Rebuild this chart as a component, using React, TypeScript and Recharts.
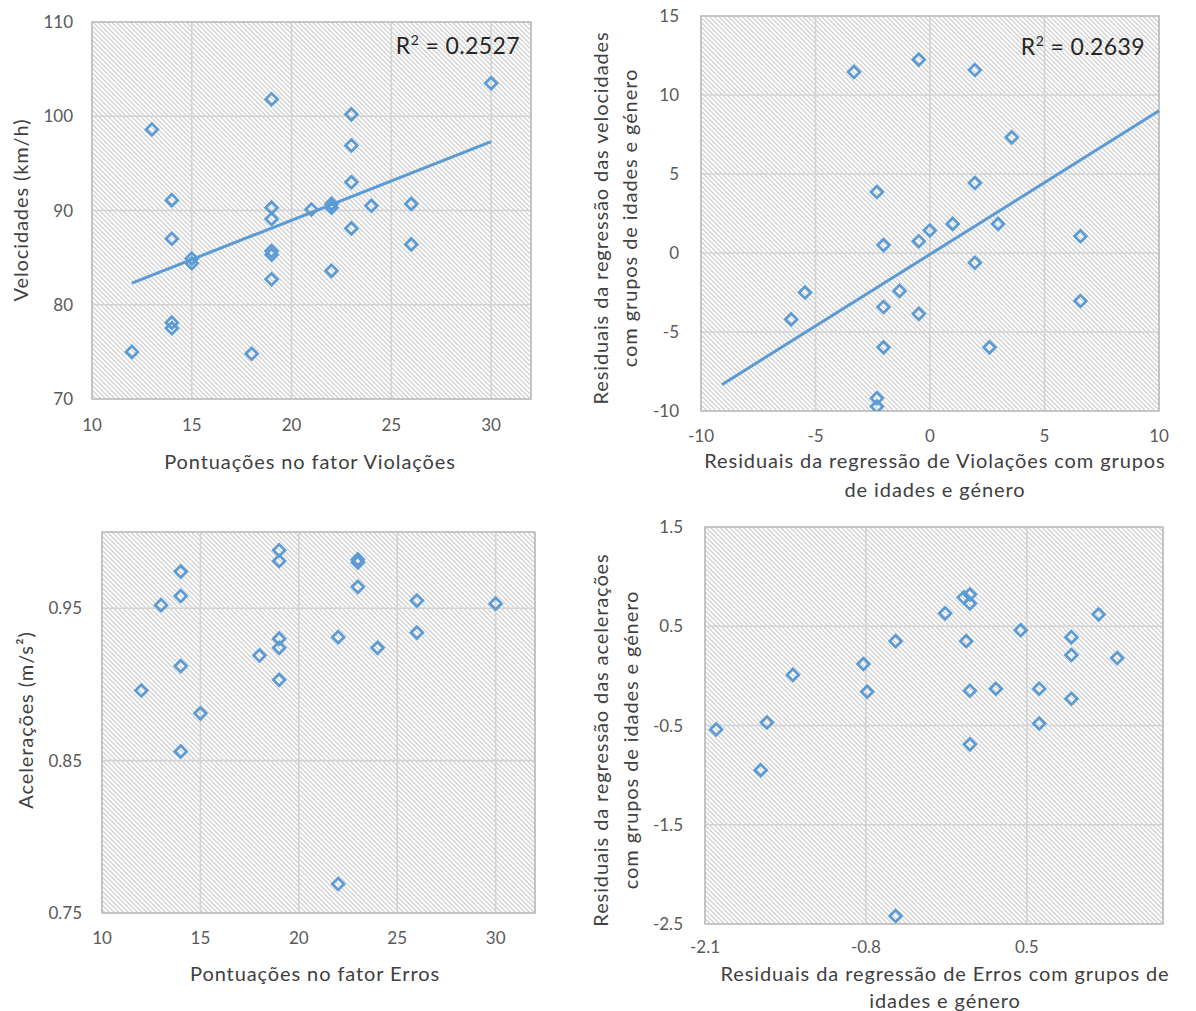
import React from 'react';
import {
  ScatterChart,
  Scatter,
  XAxis,
  YAxis,
  CartesianGrid,
  ReferenceLine,
  ReferenceArea,
  Label,
} from 'recharts';

const BLUE = '#5B9BD5';
const FONT = 'Lato, "Noto Sans", sans-serif';
const TICK_COLOR = '#595959';
const TITLE_COLOR = '#404040';

// ---------- Chart 1: Velocidades vs Violações ----------
const violacoes = [12, 13, 14, 14, 14, 14, 15, 15, 18, 19, 19, 19, 19, 19, 19, 21, 22, 22, 22, 23, 23, 23, 23, 24, 26, 26, 30];
const velocidades = [75.0, 98.6, 91.1, 87.0, 78.1, 77.5, 84.9, 84.4, 74.8, 101.8, 90.3, 89.1, 85.7, 85.3, 82.7, 90.1, 90.7, 90.3, 83.6, 100.2, 96.9, 93.0, 88.1, 90.5, 90.7, 86.4, 103.5];
const trend1X = [12, 30];
const trend1Y = [82.3, 97.3];
const xTicks1 = [10, 15, 20, 25, 30];
const yTicks1 = [70, 80, 90, 100, 110];

// ---------- Chart 2: residuais velocidades vs residuais violações ----------
const resViolacoes = [-6.06, -5.46, -3.32, -0.49, 1.96, 3.57, 1.96, -2.32, 0.99, 2.97, -0.01, -0.49, -2.03, 6.57, 1.96, -1.33, -2.03, -0.49, 6.57, -2.03, 2.6, -2.32, -2.32];
const resVelocidades = [-4.2, -2.5, 11.46, 12.24, 11.58, 7.32, 4.43, 3.86, 1.84, 1.84, 1.42, 0.74, 0.5, 1.06, -0.62, -2.4, -3.42, -3.85, -3.04, -5.97, -5.97, -9.19, -9.72];
const trend2X = [-9.09, 10];
const trend2Y = [-8.34, 9.0];
const xTicks2 = [-10, -5, 0, 5, 10];
const yTicks2 = [-10, -5, 0, 5, 10, 15];

// ---------- Chart 3: Acelerações vs Erros ----------
const erros = [12, 13, 14, 14, 14, 14, 15, 18, 19, 19, 19, 19, 19, 22, 22, 23, 23, 23, 24, 26, 26, 30];
const aceleracoes = [0.896, 0.952, 0.974, 0.958, 0.912, 0.856, 0.881, 0.919, 0.988, 0.981, 0.930, 0.924, 0.903, 0.931, 0.769, 0.982, 0.980, 0.964, 0.924, 0.955, 0.934, 0.953];
const xTicks3 = [10, 15, 20, 25, 30];
const yTicks3 = [0.75, 0.85, 0.95];

// ---------- Chart 4: residuais acelerações vs residuais erros ----------
const resErros = [-2.01, -1.65, -1.6, -1.39, -0.82, -0.79, -0.56, -0.56, -0.16, -0.01, 0.04, 0.04, 0.01, 0.04, 0.04, 0.25, 0.45, 0.6, 0.6, 0.86, 0.86, 0.86, 1.08, 1.23];
const resAceleracoes = [-0.54, -0.95, -0.47, 0.01, 0.12, -0.16, 0.35, -2.42, 0.63, 0.79, 0.82, 0.73, 0.35, -0.15, -0.69, -0.13, 0.46, -0.13, -0.48, 0.39, 0.21, -0.23, 0.62, 0.18];
const xTicks4 = [-2.1, -0.8, 0.5];
const yTicks4 = [-2.5, -1.5, -0.5, 0.5, 1.5];

const zip = (xs: number[], ys: number[]) => xs.map((x, i) => ({ x, y: ys[i] }));

const Diamond = (props: any) => {
  const { cx, cy } = props;
  if (cx == null || cy == null || isNaN(cx) || isNaN(cy)) return null;
  const r = 5.9;
  return (
    <path
      d={`M${cx},${cy - r}L${cx + r},${cy}L${cx},${cy + r}L${cx - r},${cy}Z`}
      fill="none"
      stroke={BLUE}
      strokeWidth={2.7}
    />
  );
};

const titleStyle: React.CSSProperties = {
  fontFamily: FONT,
  fontSize: 20,
  fill: TITLE_COLOR,
  letterSpacing: 0.9,
};

const xTitleContent = (lines: string[], cx: number, ys: number[]) => () => (
  <g>
    {lines.map((t, i) => (
      <text key={i} x={cx} y={ys[i]} textAnchor="middle" dominantBaseline="central" style={titleStyle}>
        {t}
      </text>
    ))}
  </g>
);

const yTitleContent = (lines: string[], xs: number[], cy: number) => () => (
  <g>
    {lines.map((t, i) => (
      <text
        key={i}
        x={xs[i]}
        y={cy}
        transform={`rotate(-90 ${xs[i]} ${cy})`}
        textAnchor="middle"
        dominantBaseline="central"
        style={titleStyle}
      >
        {t}
      </text>
    ))}
  </g>
);

const r2Content = (value: string, x: number, y: number) => () => (
  <text
    x={x}
    y={y}
    textAnchor="end"
    style={{ fontFamily: FONT, fontSize: 23, fill: '#262626', letterSpacing: 0.4 }}
  >
    R
    <tspan dy={-9} fontSize={14}>
      2
    </tspan>
    <tspan dy={9}>{` = ${value}`}</tspan>
  </text>
);

type PanelProps = {
  id: string;
  left: number;
  top: number;
  width: number;
  height: number;
  marginTop: number;
  marginRight: number;
  yWidth: number;
  xHeight: number;
  xDomain: [number, number];
  yDomain: [number, number];
  xTicks: number[];
  yTicks: number[];
  xTickMargin: number;
  yTickMargin: number;
  data: { x: number; y: number }[];
  trend?: { x: number[]; y: number[] };
  r2?: { value: string; x: number; y: number };
  xTitle: { lines: string[]; cx: number; ys: number[] };
  yTitle: { lines: string[]; xs: number[]; cy: number };
};

const tickStyle = { fill: TICK_COLOR, fontSize: 17, fontFamily: FONT };

function Panel(p: PanelProps) {
  return (
    <div style={{ position: 'absolute', left: p.left, top: p.top }}>
      <ScatterChart
        width={p.width}
        height={p.height}
        margin={{ top: p.marginTop, right: p.marginRight, left: 0, bottom: 0 }}
      >
        <CartesianGrid fill="url(#hatch)" stroke="#d3d3d3" strokeWidth={1.6} />
        <XAxis
          type="number"
          dataKey="x"
          domain={p.xDomain}
          ticks={p.xTicks}
          interval={0}
          allowDataOverflow
          tickLine={false}
          axisLine={false}
          tickSize={0}
          tickMargin={p.xTickMargin}
          height={p.xHeight}
          tick={tickStyle}
        >
          <Label content={xTitleContent(p.xTitle.lines, p.xTitle.cx, p.xTitle.ys)} />
        </XAxis>
        <YAxis
          type="number"
          dataKey="y"
          domain={p.yDomain}
          ticks={p.yTicks}
          interval={0}
          allowDataOverflow
          tickLine={false}
          axisLine={false}
          tickSize={0}
          tickMargin={p.yTickMargin}
          width={p.yWidth}
          tick={tickStyle}
        >
          <Label content={yTitleContent(p.yTitle.lines, p.yTitle.xs, p.yTitle.cy)} />
        </YAxis>
        <ReferenceArea
          x1={p.xDomain[0]}
          x2={p.xDomain[1]}
          y1={p.yDomain[0]}
          y2={p.yDomain[1]}
          fill="none"
          fillOpacity={0}
          stroke="#bfbfbf"
          strokeWidth={1.6}
          ifOverflow="visible"
          label={p.r2 ? <Label content={r2Content(p.r2.value, p.r2.x, p.r2.y)} /> : undefined}
        />
        {p.trend && (
          <ReferenceLine
            segment={[
              { x: p.trend.x[0], y: p.trend.y[0] },
              { x: p.trend.x[1], y: p.trend.y[1] },
            ]}
            stroke={BLUE}
            strokeWidth={3}
            ifOverflow="visible"
          />
        )}
        <Scatter data={p.data} shape={Diamond} isAnimationActive={false} />
      </ScatterChart>
    </div>
  );
}

export default function App() {
  return (
    <div
      style={{
        position: 'absolute',
        left: 0,
        top: 0,
        width: 1196,
        height: 1011,
        background: '#ffffff',
        overflow: 'hidden',
      }}
    >
      <svg width={0} height={0} style={{ position: 'absolute' }}>
        <defs>
          <pattern
            id="hatch"
            patternUnits="userSpaceOnUse"
            width={3.3}
            height={3.3}
            patternTransform="rotate(-45)"
          >
            <rect x={0} y={0} width={3.3} height={3.3} fill="#ffffff" />
            <line x1={0.6} y1={-1} x2={0.6} y2={4.3} stroke="#c2c2c2" strokeWidth={1} />
          </pattern>
        </defs>
      </svg>

      <Panel
        id="c1"
        left={0}
        top={0}
        width={580}
        height={505}
        marginTop={22}
        marginRight={49}
        yWidth={92}
        xHeight={106}
        xDomain={[10, 32]}
        yDomain={[70, 110]}
        xTicks={xTicks1}
        yTicks={yTicks1}
        xTickMargin={20}
        yTickMargin={19}
        data={zip(violacoes, velocidades)}
        trend={{ x: trend1X, y: trend1Y }}
        r2={{ value: '0.2527', x: 520, y: 54 }}
        xTitle={{ lines: ['Pontuações no fator Violações'], cx: 310, ys: [461] }}
        yTitle={{ lines: ['Velocidades (km/h)'], xs: [20], cy: 210 }}
      />

      <Panel
        id="c2"
        left={580}
        top={0}
        width={616}
        height={505}
        marginTop={16}
        marginRight={37}
        yWidth={121}
        xHeight={94}
        xDomain={[-10, 10]}
        yDomain={[-10, 15]}
        xTicks={xTicks2}
        yTicks={yTicks2}
        xTickMargin={19}
        yTickMargin={22}
        data={zip(resViolacoes, resVelocidades)}
        trend={{ x: trend2X, y: trend2Y }}
        r2={{ value: '0.2639', x: 565, y: 55 }}
        xTitle={{
          lines: ['Residuais da regressão de Violações com grupos', 'de idades e género'],
          cx: 355,
          ys: [460, 489],
        }}
        yTitle={{
          lines: ['Residuais da regressão das velocidades', 'com grupos de idades e género'],
          xs: [20, 49],
          cy: 218,
        }}
      />

      <Panel
        id="c3"
        left={0}
        top={505}
        width={580}
        height={506}
        marginTop={27}
        marginRight={45}
        yWidth={102}
        xHeight={98}
        xDomain={[10, 32]}
        yDomain={[0.75, 1.0]}
        xTicks={xTicks3}
        yTicks={yTicks3}
        xTickMargin={19}
        yTickMargin={20}
        data={zip(erros, aceleracoes)}
        xTitle={{ lines: ['Pontuações no fator Erros'], cx: 315, ys: [468] }}
        yTitle={{ lines: ['Acelerações (m/s²)'], xs: [25], cy: 215 }}
      />

      <Panel
        id="c4"
        left={580}
        top={505}
        width={616}
        height={506}
        marginTop={22}
        marginRight={33}
        yWidth={125}
        xHeight={87}
        xDomain={[-2.1, 1.6]}
        yDomain={[-2.5, 1.5]}
        xTicks={xTicks4}
        yTicks={yTicks4}
        xTickMargin={17}
        yTickMargin={22}
        data={zip(resErros, resAceleracoes)}
        xTitle={{
          lines: ['Residuais da regressão de Erros com grupos de', 'idades e género'],
          cx: 365,
          ys: [468, 495],
        }}
        yTitle={{
          lines: ['Residuais da regressão das acelerações', 'com grupos de idades e género'],
          xs: [20, 50],
          cy: 235,
        }}
      />
    </div>
  );
}
